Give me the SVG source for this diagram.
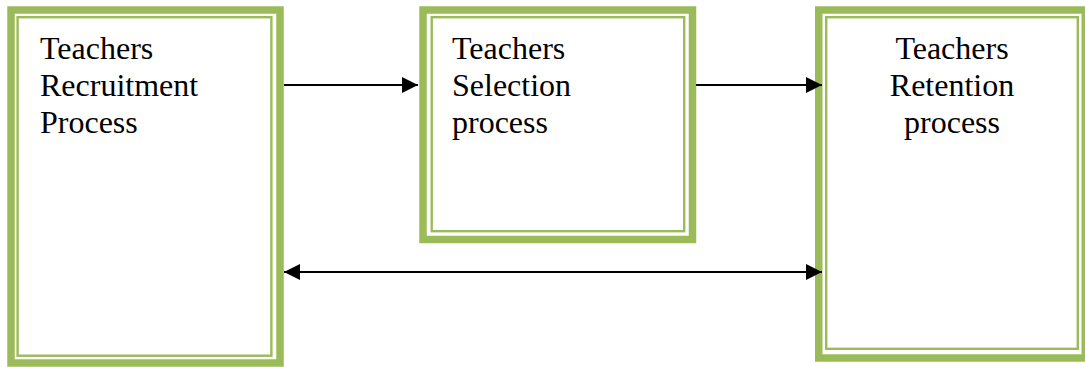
<svg xmlns="http://www.w3.org/2000/svg" width="1085" height="367" viewBox="0 0 1085 367">
  <style>
    .outer { fill: #ffffff; stroke: #9BBB59; stroke-width: 7.5; }
    .inner { fill: none; stroke: #9BBB59; stroke-width: 2.4; }
    .lbl { font-family: "Liberation Serif", "Times New Roman", serif; font-size: 32px; fill: #000000; }
    .conn { stroke: #000000; stroke-width: 2; fill: none; }
  </style>
  <defs>
    <marker id="ah" markerUnits="userSpaceOnUse" markerWidth="16" markerHeight="16" viewBox="0 0 16 16" refX="16" refY="8" orient="auto-start-reverse">
      <path d="M0,0 L16,8 L0,16 Z" fill="#000000"/>
    </marker>
  </defs>
  <rect width="1085" height="367" fill="#ffffff"/>
  <g id="recruitment">
    <rect class="outer" x="11" y="10" width="269" height="353"/>
    <rect class="inner" x="17.6" y="17.2" width="253.8" height="338.5"/>
    <text class="lbl" x="40" y="58.5">Teachers</text>
    <text class="lbl" x="40" y="95.5">Recruitment</text>
    <text class="lbl" x="40" y="133">Process</text>
  </g>
  <g id="selection">
    <rect class="outer" x="423" y="10" width="269.5" height="229.5"/>
    <rect class="inner" x="431.7" y="17.2" width="252.5" height="214"/>
    <text class="lbl" x="452" y="58.5">Teachers</text>
    <text class="lbl" x="452" y="95.5">Selection</text>
    <text class="lbl" x="452" y="133">process</text>
  </g>
  <g id="retention">
    <rect class="outer" x="818.75" y="10" width="266.5" height="348"/>
    <rect class="inner" x="826.2" y="17.2" width="251.6" height="331.6"/>
    <text class="lbl" x="952" y="58.5" text-anchor="middle">Teachers</text>
    <text class="lbl" x="952" y="95.5" text-anchor="middle">Retention</text>
    <text class="lbl" x="952" y="133" text-anchor="middle">process</text>
  </g>
  <g id="connectors">
    <line class="conn" x1="284" y1="85" x2="418" y2="85" marker-end="url(#ah)"/>
    <line class="conn" x1="696" y1="85" x2="822" y2="85" marker-end="url(#ah)"/>
    <line class="conn" x1="284" y1="272" x2="822" y2="272" marker-start="url(#ah)" marker-end="url(#ah)"/>
  </g>
</svg>
